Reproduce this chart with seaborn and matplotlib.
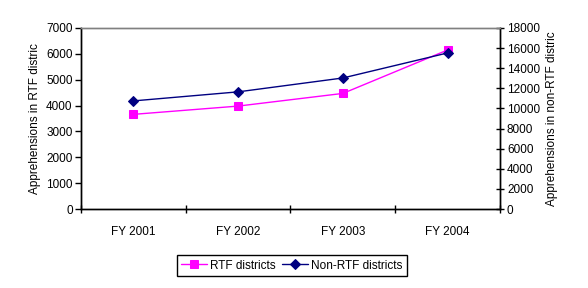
import matplotlib
matplotlib.use("Agg")
import matplotlib.pyplot as plt
import pandas as pd
import seaborn as sns

years = ["FY 2001", "FY 2002", "FY 2003", "FY 2004"]
rtf = [3660, 3980, 4470, 6150]
non_rtf = [10750, 11650, 13030, 15520]

sns.set_style("white")
plt.rcParams["font.family"] = ["Liberation Sans", "DejaVu Sans"]
plt.rcParams["font.size"] = 8.5
plt.rcParams["text.color"] = "black"
plt.rcParams["axes.labelcolor"] = "black"
plt.rcParams["xtick.color"] = "black"
plt.rcParams["ytick.color"] = "black"

df = pd.DataFrame({"year": years, "rtf": rtf, "non_rtf": non_rtf})

fig = plt.figure(figsize=(5.88, 2.88), dpi=100)
ax = fig.add_axes([81 / 588, 1 - 209 / 288, 419 / 588, 181 / 288])
ax2 = ax.twinx()

sns.lineplot(data=df, x="year", y="rtf", ax=ax, color="#ff00ff", marker="s",
             markersize=6, markeredgecolor="#ff00ff", linewidth=1, sort=False,
             label="RTF districts", legend=False)
sns.lineplot(data=df, x="year", y="non_rtf", ax=ax2, color="#000080", marker="D",
             markersize=5, markeredgecolor="#000080", linewidth=1, sort=False,
             label="Non-RTF districts", legend=False)

ax.set_xlim(-0.5, 3.5)
ax.set_ylim(0, 7000)
ax.set_yticks(range(0, 7001, 1000))
ax2.set_ylim(0, 18000)
ax2.set_yticks(range(0, 18001, 2000))

# category boundaries get the tick marks, labels sit between them
ax.set_xticks([-0.5, 0.5, 1.5, 2.5, 3.5], minor=False)
ax.set_xticklabels([])
ax.set_xticks(range(4), minor=True)
ax.set_xticklabels(years, minor=True)
ax.tick_params(axis="x", which="major", direction="inout", length=6, width=1,
               bottom=True)
ax.tick_params(axis="x", which="minor", length=0, pad=12)
ax.tick_params(axis="y", direction="out", length=4, width=1, left=True, pad=2)
ax2.tick_params(axis="y", direction="inout", length=6, width=1, right=True, pad=2)

for a in (ax, ax2):
    for side in ("left", "right", "bottom"):
        a.spines[side].set_color("black")
        a.spines[side].set_linewidth(1)
    a.spines["top"].set_color("#808080")
    a.spines["top"].set_linewidth(1)

ax.set_xlabel("")
ax.set_ylabel("Apprehensions in RTF distric", labelpad=4)
ax2.set_ylabel("Apprehensions in non-RTF distric", labelpad=4)

h1, l1 = ax.get_legend_handles_labels()
h2, l2 = ax2.get_legend_handles_labels()
leg = fig.legend(h1 + h2, l1 + l2, loc="center", bbox_to_anchor=(0.496, 0.078),
                 ncol=2, frameon=True, fancybox=False, framealpha=1,
                 handlelength=2.2, handletextpad=0.3, columnspacing=0.5,
                 borderpad=0.35, fontsize=8.5)
leg.get_frame().set_edgecolor("black")
leg.get_frame().set_linewidth(1)

fig.savefig("out.png", dpi=100)
